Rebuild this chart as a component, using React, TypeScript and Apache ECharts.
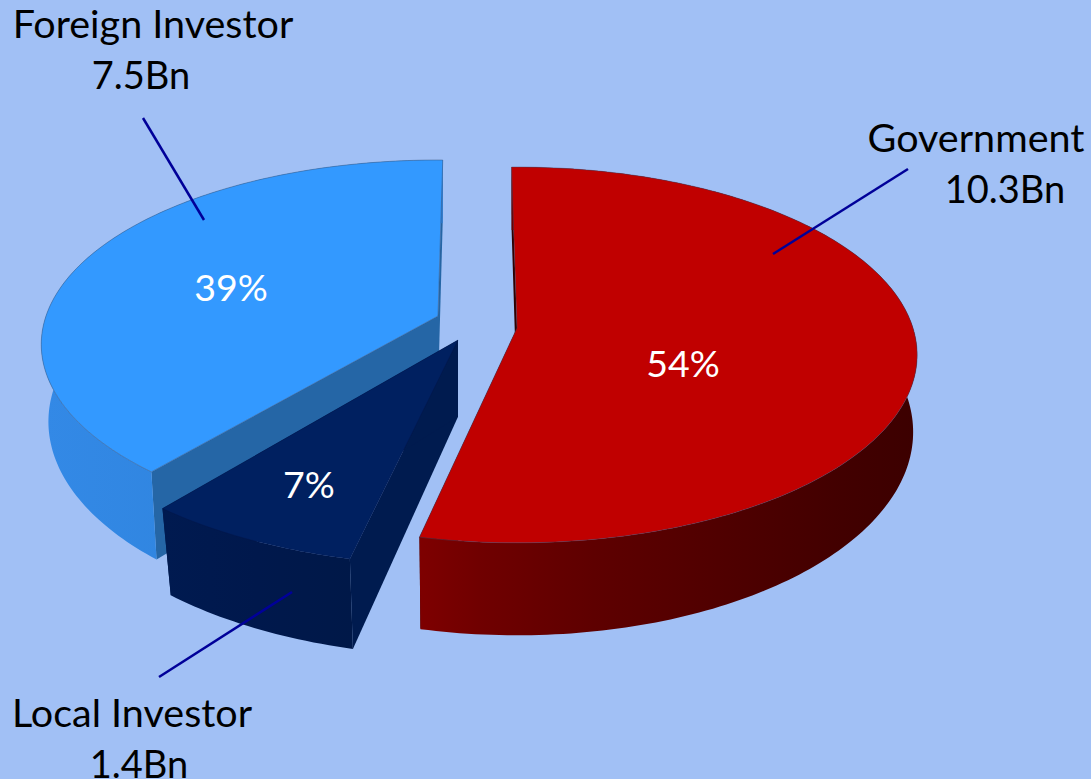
import React, { useEffect, useRef } from "react";
import * as echarts from "echarts";

// Data
const categories = ["Government", "Local Investor", "Foreign Investor"];
const valuesBn = [10.3, 1.4, 7.5];
const percentLabels = ["54%", "7%", "39%"];

// Styling and layout of the exploded perspective pie
const FONT = "Lato, Carlito, 'Open Sans', sans-serif";
const BG = "#A1C0F5";
const LINE = "#000099";
const START_DEG = -1;

const sliceStyles = [
  {
    cx: 517, cy: 328, scale: 1, shift: 0.1, z: 40, rx: 396, ry: 184, k: 0.1435, bottom: 0.99, depth: 75,
    top: "#C00000", cut: "#2E0000",
    wall: [[0, "#7E0000"], [0.12, "#700000"], [0.35, "#5E0000"], [0.6, "#500000"], [0.85, "#420000"], [1, "#3C0000"]],
    edge: "rgba(70,60,90,0.45)",
    pct: [683, 362], name: [976, 136.5], val: [1005, 188], leader: [[908, 169], [773, 254]],
  },
  {
    cx: 458, cy: 340, scale: 1.05, shift: 0.8, z: 20, rx: 396, ry: 184, k: 0.1435, bottom: 0.972, depth: 73,
    top: "#002060", cut: "#001B4F",
    wall: [[0, "#001A50"], [0.5, "#00184C"], [1, "#001848"]],
    edge: "rgba(0,20,70,0.3)",
    pct: [309, 483], name: [132, 711], val: [139, 763], leader: [[292, 592], [159, 677]],
  },
  {
    cx: 438, cy: 316, scale: 1, shift: 1.8, z: 0, rx: 392, ry: 180, k: 0.154, bottom: 0.982, depth: 75,
    top: "#3399FF", cut: "#2566A6",
    wall: [[0, "#3389E6"], [0.5, "#2F84DE"], [1, "#2B7AD0"]],
    edge: "rgba(60,90,130,0.5)",
    pct: [231, 286], name: [153, 22.5], val: [141, 74], leader: [[143, 118], [204, 220]],
  },
];

const total = valuesBn.reduce((a, b) => a + b, 0);

function sliceAngles(index: number): [number, number] {
  let acc = 0;
  for (let i = 0; i < index; i++) acc += valuesBn[i];
  const shift = sliceStyles[index].shift;
  return [
    START_DEG + shift + (acc / total) * 360,
    START_DEG + shift + ((acc + valuesBn[index]) / total) * 360,
  ];
}

function rim(st: any, deg: number, low: boolean, radial = 1): [number, number] {
  const a = (deg * Math.PI) / 180;
  const s = -Math.cos(a) * radial;
  const c = Math.sin(a) * radial;
  const w = 1 - st.k * s;
  const x = (st.rx * c) / w;
  const y = (st.ry * s) / w;
  if (!low) return [st.cx + st.scale * x, st.cy + st.scale * y];
  const offset = st.depth / Math.pow(w, 1.5);
  return [st.cx + st.scale * st.bottom * x, st.cy + st.scale * (st.bottom * y + offset)];
}

function renderSlice(params: any, api: any) {
  const i = params.dataIndex;
  const st = sliceStyles[i];
  const value = api.value(0) as number;
  const [a0, a1] = sliceAngles(i);
  const steps = Math.max(8, Math.round(a1 - a0));
  const angles: number[] = [];
  for (let t = 0; t <= steps; t++) angles.push(a0 + ((a1 - a0) * t) / steps);

  const topPts = angles.map((d) => rim(st, d, false));
  const lowPts = angles.map((d) => rim(st, d, true));
  const apexTop = rim(st, 0, false, 0);
  const apexLow = rim(st, 0, true, 0);

  const wallFill = new echarts.graphic.LinearGradient(
    0, 0, 1, 0,
    (st.wall as any[]).map(([offset, color]) => ({ offset, color }))
  );
  const wallPoints = topPts.concat(lowPts.slice().reverse());

  const children: any[] = [
    {
      type: "polygon", z2: st.z,
      shape: { points: [apexTop, topPts[0], lowPts[0], apexLow] },
      style: { fill: st.cut },
    },
    {
      type: "polygon", z2: st.z + 1,
      shape: { points: [apexTop, topPts[steps], lowPts[steps], apexLow] },
      style: { fill: st.cut },
    },
    {
      type: "polygon", z2: st.z + 2,
      shape: { points: wallPoints },
      style: { fill: wallFill },
    },
    {
      type: "polygon", z2: st.z + 3,
      shape: { points: [apexTop, ...topPts] },
      style: { fill: st.top, stroke: st.edge, lineWidth: 1 },
    },
    {
      type: "text", z2: 100,
      style: {
        text: percentLabels[i], x: st.pct[0], y: st.pct[1],
        fill: "#FFFFFF", fontSize: 37.5, fontFamily: FONT,
        align: "center", verticalAlign: "middle",
      },
    },
    {
      type: "line", z2: 90,
      shape: { x1: st.leader[0][0], y1: st.leader[0][1], x2: st.leader[1][0], y2: st.leader[1][1] },
      style: { stroke: LINE, lineWidth: 2.5 },
    },
    {
      type: "text", z2: 100,
      style: {
        text: categories[i], x: st.name[0], y: st.name[1],
        fill: "#000000", fontSize: 39.5, fontFamily: FONT,
        align: "center", verticalAlign: "middle",
      },
    },
    {
      type: "text", z2: 100,
      style: {
        text: `${value}Bn`, x: st.val[0], y: st.val[1],
        fill: "#000000", fontSize: 38, fontFamily: FONT,
        align: "center", verticalAlign: "middle",
      },
    },
  ];
  return { type: "group", children };
}

export default function App() {
  const ref = useRef<HTMLDivElement>(null);
  useEffect(() => {
    const chart = echarts.init(ref.current!, undefined, { renderer: "svg" });
    chart.setOption({
      animation: false,
      backgroundColor: BG,
      series: [
        {
          type: "custom",
          coordinateSystem: "none",
          silent: true,
          clip: false,
          renderItem: renderSlice,
          data: valuesBn.map((v) => [v]),
        },
      ],
    });
    return () => chart.dispose();
  }, []);
  return (
    <div
      ref={ref}
      style={{ position: "fixed", left: 0, top: 0, width: 1091, height: 779 }}
    />
  );
}
